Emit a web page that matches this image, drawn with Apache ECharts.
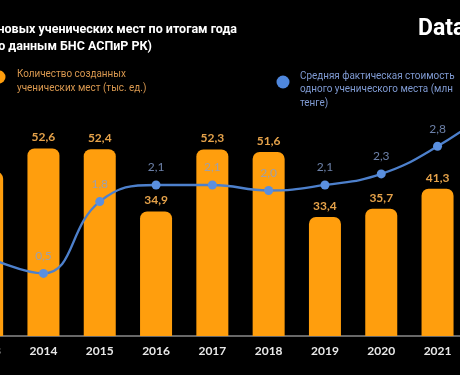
<!DOCTYPE html>
<html>
<head>
<meta charset="utf-8">
<script src="https://cdn.jsdelivr.net/npm/echarts@6/dist/echarts.min.js"></script>
<style>
  html, body { margin: 0; padding: 0; background: #000; }
  #chart { width: 460px; height: 375px; }
</style>
</head>
<body>
<div id="chart"></div>
<script>
// data
const years = ['2013', '2014', '2015', '2016', '2017', '2018', '2019', '2020', '2021', '2022'];
const places = [46.1, 52.6, 52.4, 34.9, 52.3, 51.6, 33.4, 35.7, 41.3, 48.0];   // тыс. ед.
const cost = [0.8, 0.5, 1.8, 2.1, 2.1, 2.0, 2.1, 2.3, 2.8, 3.5];               // млн тенге

const comma = v => v.toFixed(1).replace('.', ',');

const chart = echarts.init(document.getElementById('chart'));

const option = {
    backgroundColor: '#000',
    animation: false,
    grid: { left: -41, right: -62, top: 80, bottom: 39, outerBoundsMode: 'none', containLabel: false },
    xAxis: {
        type: 'category',
        data: years,
        axisTick: { show: false },
        axisLine: { lineStyle: { color: '#8a8a8a', width: 1.5 } },
        axisLabel: {
            color: '#e8e8e8',
            fontFamily: 'Lato',
            fontWeight: 'bold',
            fontSize: 12,
            margin: 9
        }
    },
    yAxis: [
        { type: 'value', min: 0, max: 71.8, show: false, splitLine: { show: false } },
        { type: 'value', min: -0.633, max: 4, show: false, splitLine: { show: false } }
    ],
    series: [
        {
            name: 'Количество созданных ученических мест (тыс. ед.)',
            type: 'bar',
            data: places,
            barWidth: 32,
            itemStyle: { color: '#FF9E0D', borderRadius: [7, 7, 0, 0] },
            label: {
                show: true,
                position: 'top',
                distance: 5,
                color: '#E5A24A',
                fontFamily: 'Lato',
                fontWeight: 'bold',
                fontSize: 12,
                formatter: p => comma(p.value)
            }
        },
        {
            name: 'Средняя фактическая стоимость одного ученического места (млн тенге)',
            type: 'line',
            yAxisIndex: 1,
            data: cost,
            smooth: 0.45,
            symbol: 'circle',
            symbolSize: 9,
            lineStyle: { color: '#4D80CC', width: 2.3 },
            itemStyle: { color: '#5A8FDF' },
            label: {
                show: true,
                position: 'top',
                distance: 7,
                color: 'rgba(135,160,210,0.8)',
                fontFamily: 'Lato',
                fontSize: 12,
                formatter: p => comma(p.value)
            }
        }
    ],
    graphic: [
        // title, cut at the left edge of the picture
        {
            type: 'text', right: 223, top: 23,
            style: { text: 'Ввод новых ученических мест по итогам года', fill: '#fff',
                     font: 'bold 12.5px Roboto' }
        },
        {
            type: 'text', right: 308, top: 40,
            style: { text: '(по данным БНС АСПиР РК)', fill: '#fff',
                     font: 'bold 12.5px Roboto' }
        },
        {
            type: 'text', x: 418, y: 18,
            style: { text: 'Data', fill: '#fff', font: 'bold 23px Roboto' }
        },
        // legend
        { type: 'circle', shape: { cx: -1, cy: 77, r: 6.5 }, style: { fill: '#FF9E0D' } },
        {
            type: 'text', x: 17, y: 67, scaleX: 0.9,
            style: { text: 'Количество созданных\nученических мест (тыс. ед.)', fill: '#D9984F',
                     font: '11px Roboto', lineHeight: 14 }
        },
        { type: 'circle', shape: { cx: 283, cy: 82, r: 6.5 }, style: { fill: '#4F87DD' } },
        {
            type: 'text', x: 300, y: 69, scaleX: 0.9,
            style: { text: 'Средняя фактическая стоимость\nодного ученического места (млн\nтенге)', fill: '#7F9AD2',
                     font: '11px Roboto', lineHeight: 13.5 }
        }
    ]
};

chart.setOption(option);
</script>
</body>
</html>
